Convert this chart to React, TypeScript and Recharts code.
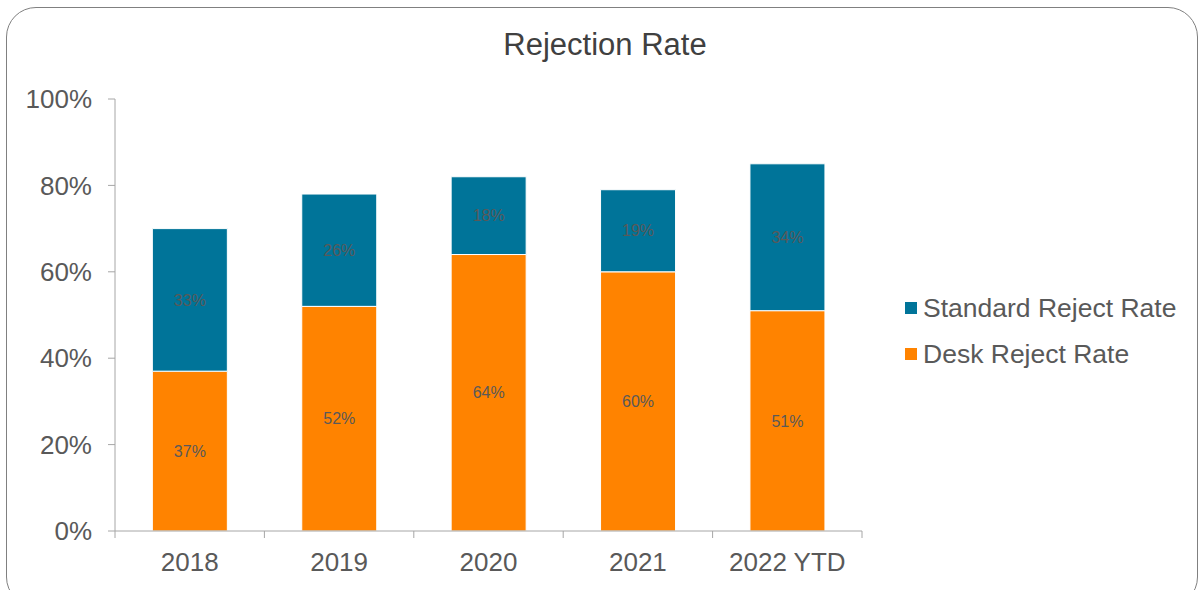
import { BarChart, Bar, XAxis, YAxis, Legend, LabelList } from "recharts"

const years = ["2018", "2019", "2020", "2021", "2022 YTD"]
const deskReject = [37, 52, 64, 60, 51]
const standardReject = [33, 26, 18, 19, 34]
const yTicks = [0, 20, 40, 60, 80, 100]

const DESK = "#FF8300"
const STANDARD = "#007499"
const TEXT = "#595959"
const AXIS = "#A6A6A6"
const FONT = "'Liberation Sans', Arial, sans-serif"

const data = years.map((year, i) => ({
  year,
  desk: deskReject[i],
  standard: standardReject[i],
}))

// category label plus Excel-style tick marks between categories
function YearTick({ x, y, payload, visibleTicksCount }: any) {
  const half = payload.offset || 0
  const isLast = payload.index === visibleTicksCount - 1
  return (
    <g>
      <line x1={x - half} x2={x - half} y1={y} y2={y + 7} stroke={AXIS} />
      {isLast && <line x1={x + half} x2={x + half} y1={y} y2={y + 7} stroke={AXIS} />}
      <text x={x} y={y + 22} dy="0.71em" textAnchor="middle" fill={TEXT} fontSize={26}>
        {payload.value}
      </text>
    </g>
  )
}

function LegendBox({ payload }: any) {
  const items = [...(payload || [])].reverse()
  return (
    <div style={{ fontFamily: FONT }}>
      {items.map((item: any) => (
        <div
          key={item.value}
          style={{ display: "flex", alignItems: "center", height: 46, fontSize: 26.5, color: TEXT }}
        >
          <span style={{ width: 12, height: 12, background: item.color, marginRight: 6 }} />
          {item.value}
        </div>
      ))}
    </div>
  )
}

export default function App() {
  return (
    <div style={{ position: "fixed", left: 0, top: 0, width: 1200, height: 590, background: "#fff", overflow: "hidden" }}>
      <div
        style={{
          position: "absolute",
          left: 6,
          top: 7,
          width: 1192,
          height: 600,
          border: "1px solid #808080",
          borderRadius: 30,
          boxSizing: "border-box",
        }}
      />
      <div
        style={{
          position: "absolute",
          left: 0,
          top: 27,
          width: 1210,
          textAlign: "center",
          fontFamily: FONT,
          fontSize: 31,
          color: "#404040",
        }}
      >
        Rejection Rate
      </div>
      <div style={{ position: "absolute", left: 0, top: 0 }}>
        <BarChart
          width={1200}
          height={590}
          data={data}
          margin={{ top: 99, right: 338, left: 0, bottom: 0 }}
          barCategoryGap="25%"
          style={{ fontFamily: FONT }}
        >
          <XAxis
            dataKey="year"
            height={59}
            axisLine={{ stroke: AXIS }}
            tickLine={false}
            tickSize={0}
            tickMargin={0}
            interval={0}
            tick={<YearTick />}
          />
          <YAxis
            domain={[0, 100]}
            ticks={yTicks}
            width={115}
            axisLine={{ stroke: AXIS }}
            tickLine={{ stroke: AXIS }}
            tickSize={7}
            tickMargin={16}
            tick={{ fill: TEXT, fontSize: 26 }}
            tickFormatter={(v: number) => `${v}%`}
          />
          <Legend
            layout="vertical"
            align="center"
            verticalAlign="middle"
            content={<LegendBox />}
            wrapperStyle={{ left: 905, top: 285, width: 295 }}
          />
          <Bar
            dataKey="desk"
            name="Desk Reject Rate"
            stackId="a"
            fill={DESK}
            stroke="#fff"
            strokeWidth={1}
            isAnimationActive={false}
          >
            <LabelList dataKey="desk" position="center" fill={TEXT} fontSize={16} formatter={(v: any) => `${v}%`} />
          </Bar>
          <Bar
            dataKey="standard"
            name="Standard Reject Rate"
            stackId="a"
            fill={STANDARD}
            stroke="#fff"
            strokeWidth={1}
            isAnimationActive={false}
          >
            <LabelList dataKey="standard" position="center" fill={TEXT} fontSize={16} formatter={(v: any) => `${v}%`} />
          </Bar>
        </BarChart>
      </div>
    </div>
  )
}
